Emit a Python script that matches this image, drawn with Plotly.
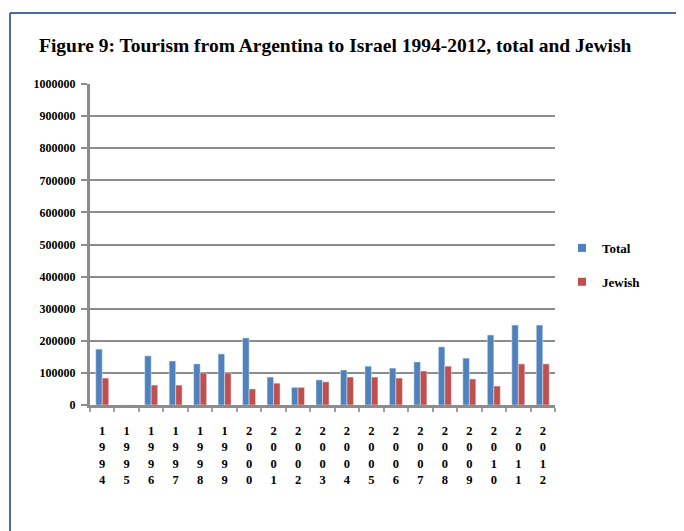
import plotly.graph_objects as go

years = [str(y) for y in range(1994, 2013)]
total = [174000, 0, 153000, 137000, 128000, 159000, 209000, 87000, 55000, 78000,
         109000, 121000, 115000, 134000, 181000, 146000, 218000, 249000, 249000]
jewish = [84000, 0, 62000, 62000, 100000, 100000, 50000, 68000, 55000, 72000,
          87000, 87000, 84000, 106000, 121000, 81000, 59000, 128000, 128000]
y_ticks = list(range(0, 1000001, 100000))

serif = "Liberation Serif"
blue = "#4F81BD"
red = "#C0504D"

fig = go.Figure()
fig.add_trace(go.Bar(x=years, y=total, name="Total", marker_color=blue,
                     showlegend=False))
fig.add_trace(go.Bar(x=years, y=jewish, name="Jewish", marker_color=red,
                     showlegend=False))
# small square legend keys (bar keys are too big)
for name, col in [("Total", blue), ("Jewish", red)]:
    fig.add_trace(go.Scatter(x=[years[0]], y=[None], mode="markers", name=name,
                             legendgroup=name,
                             marker=dict(symbol="square", size=8, color=col)))

# stacked digits under each bar group, like the original
ticktext = ["<br>".join(list(y)) for y in years]

fig.update_xaxes(
    type="category",
    range=[-0.5, 18.5],
    tickmode="array",
    tickvals=years,
    ticktext=ticktext,
    tickangle=0,
    tickfont=dict(family=serif, size=12.5, color="black", weight="bold"),
    ticklabelstandoff=12,
    showline=True, linecolor="#8c8c8c", linewidth=3,
    ticks="outside", tickson="boundaries", ticklen=4, tickcolor="#a0a0a0",
    tickwidth=2,
    showgrid=False,
)
fig.update_yaxes(
    range=[0, 1000000],
    tickmode="array",
    tickvals=y_ticks,
    tickformat="d",
    tickfont=dict(family=serif, size=12, color="black", weight="bold"),
    ticklabelstandoff=3,
    showline=True, linecolor="#8c8c8c", linewidth=3,
    ticks="outside", ticklen=6, tickcolor="#8c8c8c", tickwidth=2,
    showgrid=True, gridcolor="#8c8c8c", gridwidth=2,
    zeroline=False,
)

fig.update_layout(
    width=684, height=531,
    margin=dict(l=82, r=137, t=76, b=134),
    plot_bgcolor="white", paper_bgcolor="white",
    barmode="group", bargap=0.47, bargroupgap=0,
    showlegend=True,
    legend=dict(
        x=1.015, y=0.536, xanchor="left", yanchor="top",
        font=dict(family=serif, size=13, color="black", weight="bold"),
        tracegroupgap=14, itemwidth=30, bgcolor="rgba(0,0,0,0)",
    ),
    annotations=[dict(
        text="Figure 9: Tourism from Argentina to Israel 1994-2012, total and Jewish",
        xref="paper", yref="paper", x=-0.114, y=1.121,
        xanchor="left", yanchor="middle", showarrow=False,
        font=dict(family=serif, size=19.5, color="black", weight="bold"),
    )],
    shapes=[
        dict(type="line", xref="paper", yref="paper", x0=-0.172, x1=1.35,
             y0=1.221, y1=1.221, line=dict(color="#4a6aa0", width=2)),
        dict(type="line", xref="paper", yref="paper", x0=-0.172, x1=-0.172,
             y0=1.221, y1=-0.45, line=dict(color="#4a6aa0", width=2)),
    ],
)

fig.write_html("out.html")
